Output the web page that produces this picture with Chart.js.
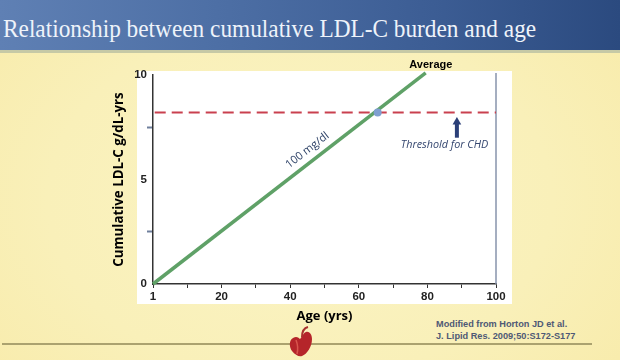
<!DOCTYPE html>
<html>
<head>
<meta charset="utf-8">
<script src="https://cdn.jsdelivr.net/npm/chart.js@4"></script>
<style>
  html, body { margin: 0; padding: 0; }
  #slide { position: relative; width: 620px; height: 360px; overflow: hidden;
    background: radial-gradient(ellipse 420px 300px at 300px 200px, #fbf4c4 0%, #f9f0b9 60%, #f8ebaa 100%); }
  #header { position: absolute; left: 0; top: 0; width: 620px; height: 50px;
    background: linear-gradient(90deg, #5f80b4 0%, #4d6fa5 35%, #3c5d94 70%, #2b4a7f 100%); }
  #title { position: absolute; left: 3px; top: 15px; color: #eef3fa; white-space: nowrap;
    font: 24.5px "Liberation Serif", serif; transform: scaleX(0.951); transform-origin: left top; }
  #rule { position: absolute; left: 0; top: 50px; width: 620px; height: 3px; background: #c6c9a6; }
  #panel { position: absolute; left: 137px; top: 71px; width: 375px; height: 233px; background: #fff; }
  #foot { position: absolute; left: 2px; top: 343px; width: 590px; height: 1.5px; background: #aba26f; }
  #source { position: absolute; left: 436px; top: 319px; color: #4f5975;
    font: bold 9.2px/11.5px "Liberation Sans", sans-serif; white-space: nowrap; }
  #heart { position: absolute; left: 288px; top: 325px; }
  canvas { position: absolute; left: 0; top: 0; }
</style>
</head>
<body>
<div id="slide">
  <div id="header"></div>
  <div id="title">Relationship between cumulative LDL-C burden and age</div>
  <div id="rule"></div>
  <div id="panel"></div>
  <div id="foot"></div>
  <svg id="heart" width="28" height="33" viewBox="0 0 28 33">
    <path d="M5 13 C1 15 1 22 4 26 C7 30 11 32 14 31 C19 29 24 22 24 14 C24 9 21 6 18 7 C15 8 14 12 12 14 C10 12 8 11 5 13 Z" fill="#b5252a"/>
    <path d="M14 12 C14 7 16 3 20 2" fill="none" stroke="#a8322f" stroke-width="2"/>
    <path d="M8 15 C10 20 10 25 9 29" fill="none" stroke="#d9564e" stroke-width="1.5"/>
  </svg>
  <div id="source">Modified from Horton JD et al.<br>J. Lipid Res. 2009;50:S172-S177</div>
  <canvas id="chart" width="620" height="360"></canvas>
</div>
<script>
// values
const xTickLabels = ['1', '', '20', '', '40', '', '60', '', '80', '', '100'];
const yTickLabels = ['0', '', '5', '', '10'];
const averageX = [0, 79.5];
const averageY = [0, 10.1];
const thresholdX = [0.5, 100];
const thresholdY = [8.2, 8.2];
const crossX = [65.5];
const crossY = [8.2];
const arrowX = [88.6, 88.6];
const arrowY = [7.0, 7.75];
const edgeX = [100, 100];
const edgeY = [0, 10.1];

const toPoints = (xs, ys) => xs.map((x, i) => ({ x: x, y: ys[i] }));

// text that sits on the plot, placed through the scales
const slideLabels = {
  id: 'slideLabels',
  afterDatasetsDraw(chart) {
    const { ctx, scales: { x, y } } = chart;
    ctx.save();
    ctx.textAlign = 'center';
    ctx.textBaseline = 'middle';
    ctx.fillStyle = '#000';
    ctx.font = 'bold 11px "Liberation Sans", sans-serif';
    ctx.fillText('Average', x.getPixelForValue(81), y.getPixelForValue(10.5));
    ctx.fillStyle = '#34466f';
    ctx.font = 'italic 10.8px "Open Sans", sans-serif';
    ctx.fillText('Threshold for CHD', x.getPixelForValue(85), y.getPixelForValue(6.65));
    const angle = Math.atan2(y.getPixelForValue(10.1) - y.getPixelForValue(0), x.getPixelForValue(79.5) - x.getPixelForValue(0));
    ctx.translate(x.getPixelForValue(45), y.getPixelForValue(6.4));
    ctx.rotate(angle);
    ctx.fillStyle = '#2f4368';
    ctx.font = '11px "Open Sans", sans-serif';
    ctx.fillText('100 mg/dl', 0, 0);
    ctx.restore();
  }
};

new Chart(document.getElementById('chart'), {
  type: 'scatter',
  data: {
    datasets: [
      { data: toPoints(crossX, crossY), backgroundColor: '#7f9fd0', pointRadius: 4, borderWidth: 0 },
      { data: toPoints(thresholdX, thresholdY), showLine: true, borderColor: '#c9404f', borderWidth: 2, borderDash: [11, 6], pointRadius: 0 },
      { data: toPoints(averageX, averageY), showLine: true, borderColor: '#5fa167', borderWidth: 3.5, pointRadius: 0, clip: false },
      { data: toPoints(arrowX, arrowY), showLine: true, borderColor: '#2b3f78', borderWidth: 4, backgroundColor: '#2b3f78',
        pointStyle: ['circle', 'triangle'], pointRadius: [0, 5], pointBorderWidth: 0 },
      { data: toPoints(edgeX, edgeY), showLine: true, borderColor: '#8793ab', borderWidth: 1.5, pointRadius: 0, clip: false }
    ]
  },
  plugins: [slideLabels],
  options: {
    responsive: false,
    animation: false,
    layout: { padding: { top: 75, right: 124, left: 0, bottom: 0 } },
    plugins: { legend: { display: false }, tooltip: { enabled: false } },
    scales: {
      x: {
        type: 'linear', min: 0, max: 100,
        afterFit: s => { s.height = 76; },
        ticks: { stepSize: 10, maxRotation: 0, autoSkip: false, padding: 2, color: '#222',
          font: { family: '"Liberation Sans", sans-serif', weight: 'bold', size: 11.5 },
          callback: (v, i) => xTickLabels[i] },
        grid: { drawOnChartArea: false, tickLength: 4, color: '#333', tickColor: '#333' },
        border: { color: '#333', width: 1.5 },
        title: { display: true, text: 'Age (yrs)', color: '#000', padding: { top: 0, bottom: 36 },
          font: { family: '"Open Sans", sans-serif', weight: 'bold', size: 13 } }
      },
      y: {
        min: 0, max: 10,
        afterFit: s => { s.width = 153; },
        ticks: { stepSize: 2.5, padding: 0, color: '#222',
          font: { family: '"Liberation Sans", sans-serif', weight: 'bold', size: 11.5 },
          callback: (v, i) => yTickLabels[i] },
        grid: { drawOnChartArea: false, tickLength: 6,
          tickColor: c => (c.index % 2 ? '#6f7f9c' : 'transparent'),
          tickWidth: c => (c.index % 2 ? 2 : 1) },
        border: { color: '#333', width: 1.5 },
        title: { display: true, text: 'Cumulative LDL-C g/dL-yrs', color: '#000', padding: { top: 111, bottom: 0 },
          font: { family: '"Open Sans", sans-serif', weight: 'bold', size: 13.3 } }
      }
    }
  }
});
</script>
</body>
</html>
